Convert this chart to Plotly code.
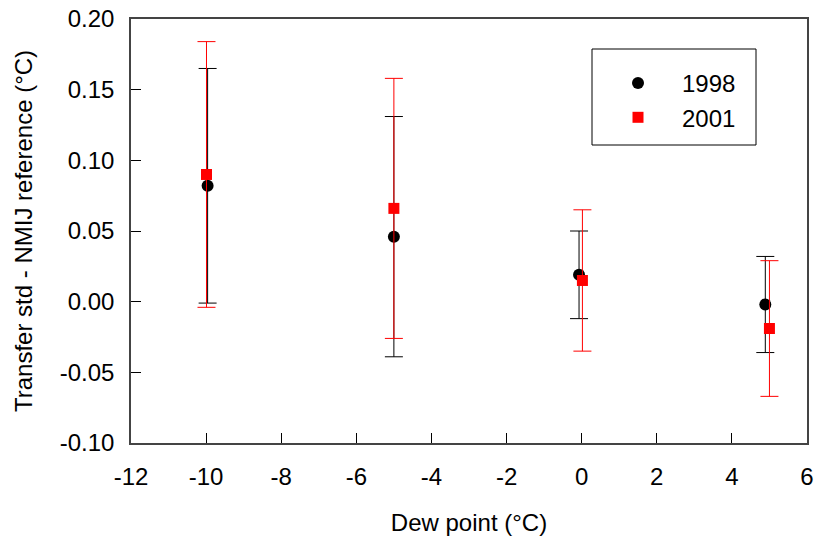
import plotly.graph_objects as go

# Data
dew_1998 = [-9.96, -5.0, -0.07, 4.89]
val_1998 = [0.082, 0.046, 0.019, -0.002]
err_1998 = [0.083, 0.085, 0.031, 0.034]

dew_2001 = [-9.99, -5.0, 0.02, 5.0]
val_2001 = [0.090, 0.066, 0.015, -0.019]
err_2001 = [0.094, 0.092, 0.050, 0.048]

x_tickvals = [-12, -10, -8, -6, -4, -2, 0, 2, 4, 6]
x_ticktext = ["-12", "-10", "-8", "-6", "-4", "-2", "0", "2", "4", "6"]
y_tickvals = [-0.10, -0.05, 0.00, 0.05, 0.10, 0.15, 0.20]
y_ticktext = ["-0.10", "-0.05", "0.00", "0.05", "0.10", "0.15", "0.20"]

FONT = "Liberation Sans, Arial, sans-serif"
FS = 24

fig = go.Figure()
fig.add_trace(go.Scatter(
    x=dew_1998, y=val_1998, mode="markers", name="1998",
    marker=dict(symbol="circle", size=12, color="black"),
    error_y=dict(type="data", array=err_1998, visible=True,
                 color="black", thickness=1, width=9),
))
fig.add_trace(go.Scatter(
    x=dew_2001, y=val_2001, mode="markers", name="2001",
    marker=dict(symbol="square", size=11, color="#ff0000"),
    error_y=dict(type="data", array=err_2001, visible=True,
                 color="#ff0000", thickness=1, width=9),
))

L, R, T, B = 131, 11, 19, 94
W, H = 818, 537
pw, ph = W - L - R, H - T - B

def px(xp):
    return (xp - L) / pw

def py(yp):
    return (H - B - yp) / ph

fig.add_shape(type="rect", xref="paper", yref="paper",
              x0=px(592), x1=px(756), y0=py(145), y1=py(49),
              line=dict(color="black", width=1), fillcolor="rgba(0,0,0,0)")

fig.update_layout(
    width=W, height=H,
    margin=dict(l=L, r=R, t=T, b=B, autoexpand=False),
    plot_bgcolor="white", paper_bgcolor="white",
    font=dict(family=FONT, size=FS, color="black"),
    showlegend=True,
    legend=dict(x=px(594), y=py(61), xanchor="left", yanchor="top",
                bgcolor="rgba(0,0,0,0)", borderwidth=0,
                font=dict(family=FONT, size=FS, color="black"),
                itemwidth=78),
    xaxis=dict(
        range=[-12, 6], tickvals=x_tickvals, ticktext=x_ticktext,
        ticks="inside", ticklen=10, tickcolor="black", tickwidth=1,
        showline=True, linecolor="#444444", linewidth=1.5, mirror=True,
        showgrid=False, zeroline=False, automargin=False,
        title=dict(text="Dew point (°C)", standoff=26, font=dict(size=FS)),
        ticklabelstandoff=11,
    ),
    yaxis=dict(
        range=[-0.10, 0.20], tickvals=y_tickvals, ticktext=y_ticktext,
        ticks="inside", ticklen=10, tickcolor="black", tickwidth=1,
        showline=True, linecolor="#444444", linewidth=1.5, mirror=True,
        showgrid=False, zeroline=False, automargin=False,
        title=dict(text="Transfer std - NMIJ reference (°C)", standoff=20, font=dict(size=FS)),
        ticklabelstandoff=10,
    ),
)

fig.write_html("out.html")
